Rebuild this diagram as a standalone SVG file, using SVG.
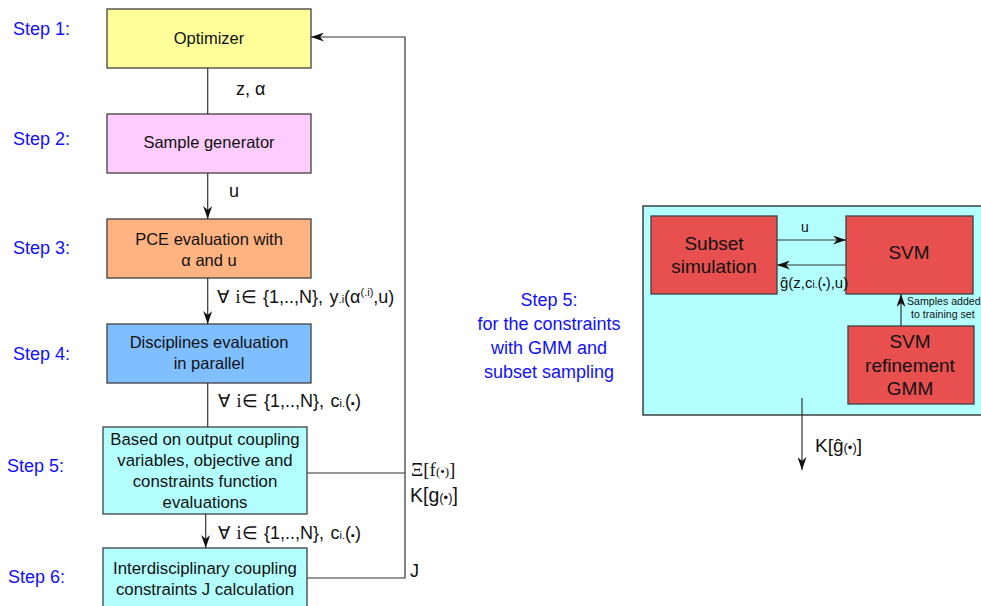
<svg xmlns="http://www.w3.org/2000/svg" width="981" height="606" viewBox="0 0 981 606">
<defs>
<marker id="arr" viewBox="0 0 13 9" refX="13" refY="4.5" markerWidth="13" markerHeight="9" markerUnits="userSpaceOnUse" orient="auto">
<path d="M13,4.5 L0,0 L4,4.5 L0,9 z" fill="#111"/>
</marker>
<style>
.box{stroke:#404040;stroke-width:1.3}
.t{font-family:"Liberation Sans",Arial,sans-serif;font-size:16.5px;fill:#111;text-anchor:middle}
.step{font-family:"Liberation Sans",Arial,sans-serif;font-size:18px;fill:#1010ff}
.lab{font-family:"Liberation Sans",Arial,sans-serif;font-size:18px;fill:#111}
.fa{word-spacing:1.5px}
.ser{font-family:"Liberation Serif","Times New Roman",serif}
.sm{font-size:11px}
.ln{stroke:#333;stroke-width:1.2;fill:none}
.big{font-family:"Liberation Sans",Arial,sans-serif;font-size:19px;fill:#111;text-anchor:middle}
</style>
</defs>
<rect width="981" height="606" fill="#fff"/>

<g id="steps">
<text class="step" x="13" y="35">Step 1:</text>
<text class="step" x="13" y="145">Step 2:</text>
<text class="step" x="13" y="254">Step 3:</text>
<text class="step" x="13" y="360">Step 4:</text>
<text class="step" x="7" y="472">Step 5:</text>
<text class="step" x="8" y="583">Step 6:</text>
</g>

<g id="optimizer">
<rect class="box" x="107" y="9" width="204" height="59" fill="#ffff99"/>
<text class="t" x="209" y="44">Optimizer</text>
</g>
<g id="sample-generator">
<rect class="box" x="107" y="114" width="204" height="59" fill="#ffccff"/>
<text class="t" x="209" y="148">Sample generator</text>
</g>
<g id="pce">
<rect class="box" x="107" y="219" width="204" height="59" fill="#ffb380"/>
<text class="t" x="209" y="245">PCE evaluation with</text>
<text class="t" x="209" y="266">α and u</text>
</g>
<g id="disciplines">
<rect class="box" x="107" y="324" width="204" height="59" fill="#80bfff"/>
<text class="t" x="209" y="348">Disciplines evaluation</text>
<text class="t" x="209" y="369">in parallel</text>
</g>
<g id="step5-box">
<rect class="box" x="103" y="427" width="204" height="87" fill="#b3ffff"/>
<text class="t" x="205" y="445" style="font-size:16.8px">Based on output coupling</text>
<text class="t" x="205" y="466" style="font-size:16.8px">variables, objective and</text>
<text class="t" x="205" y="487" style="font-size:16.8px">constraints function</text>
<text class="t" x="205" y="508" style="font-size:16.8px">evaluations</text>
</g>
<g id="step6-box">
<rect class="box" x="103" y="548" width="204" height="70" fill="#b3ffff"/>
<text class="t" x="205" y="574" style="font-size:16.8px">Interdisciplinary coupling</text>
<text class="t" x="205" y="595" style="font-size:16.8px">constraints J calculation</text>
</g>

<g id="step5-panel">
<rect x="643" y="206" width="400" height="209" fill="#b3ffff" stroke="#222" stroke-width="1.3"/>
<text class="step" x="549" y="306" text-anchor="middle">Step 5:</text>
<text class="step" x="549" y="330" text-anchor="middle">for the constraints</text>
<text class="step" x="549" y="354" text-anchor="middle">with GMM and</text>
<text class="step" x="549" y="378" text-anchor="middle">subset sampling</text>
</g>
<g id="subset-simulation">
<rect class="box" x="651" y="216" width="126" height="78" fill="#e85050"/>
<text class="big" x="714" y="250">Subset</text>
<text class="big" x="714" y="273">simulation</text>
</g>
<g id="svm">
<rect class="box" x="846" y="216" width="127" height="78" fill="#e85050"/>
<text class="big" x="909" y="259">SVM</text>
</g>
<g id="svm-refinement">
<rect class="box" x="848" y="326" width="126" height="78" fill="#e85050"/>
<text class="big" x="910" y="348">SVM</text>
<text class="big" x="910" y="372">refinement</text>
<text class="big" x="910" y="395">GMM</text>
</g>

<g id="connectors">
<path class="ln" d="M207.7,68 V114"/>
<path class="ln" d="M207.7,173 V219" marker-end="url(#arr)"/>
<path class="ln" d="M207.7,278 V324" marker-end="url(#arr)"/>
<path class="ln" d="M207.7,383 V427"/>
<path class="ln" d="M205.7,514 V548" marker-end="url(#arr)"/>
<path class="ln" d="M307,473 H405"/>
<path class="ln" d="M307,578 H405 V37 H311" marker-end="url(#arr)"/>
<path class="ln" d="M777,240 H846" marker-end="url(#arr)"/>
<path class="ln" d="M846,265 H777" marker-end="url(#arr)"/>
<path class="ln" d="M901,326 V294" marker-end="url(#arr)"/>
<path class="ln" d="M802,398 V470" marker-end="url(#arr)"/>
</g>

<g id="labels">
<text class="lab" x="236" y="95">z, α</text>
<text class="lab" x="229" y="197">u</text>
<text class="lab fa" x="217" y="303">∀ <tspan class="ser">i</tspan>∈ {1,..,N}, y<tspan class="sm">.i</tspan>(α<tspan class="sm" dy="-7">(.i)</tspan><tspan dy="7">,u)</tspan></text>
<text class="lab fa" x="218" y="407">∀ <tspan class="ser">i</tspan>∈ {1,..,N}, c<tspan class="sm">i.</tspan><tspan>(</tspan><tspan class="sm">▪</tspan><tspan>)</tspan></text>
<text class="lab fa" x="218" y="539">∀ <tspan class="ser">i</tspan>∈ {1,..,N}, c<tspan class="sm">i.</tspan><tspan>(</tspan><tspan class="sm">▪</tspan><tspan>)</tspan></text>
<text class="lab ser" x="411" y="476" style="font-size:19px">Ξ[f<tspan style="font-size:13px">(•)</tspan>]</text>
<text class="lab" x="410" y="502" style="font-size:19.5px">K[g<tspan style="font-size:13px">(•)</tspan>]</text>
<text class="lab" x="410" y="577" style="font-size:18px">J</text>
<text class="lab" x="801" y="232" style="font-size:14px">u</text>
<text class="lab" x="780" y="288" style="font-size:15px">ĝ(z,c<tspan style="font-size:10px">i.</tspan>(<tspan style="font-size:9px">•</tspan>),u)</text>
<text class="lab" x="907" y="305" style="font-size:10.6px">Samples added</text>
<text class="lab" x="911" y="318" style="font-size:10.6px">to training set</text>
<text class="lab" x="815" y="452" style="font-size:19px">K[ĝ<tspan style="font-size:13px">(•)</tspan>]</text>
</g>
</svg>
